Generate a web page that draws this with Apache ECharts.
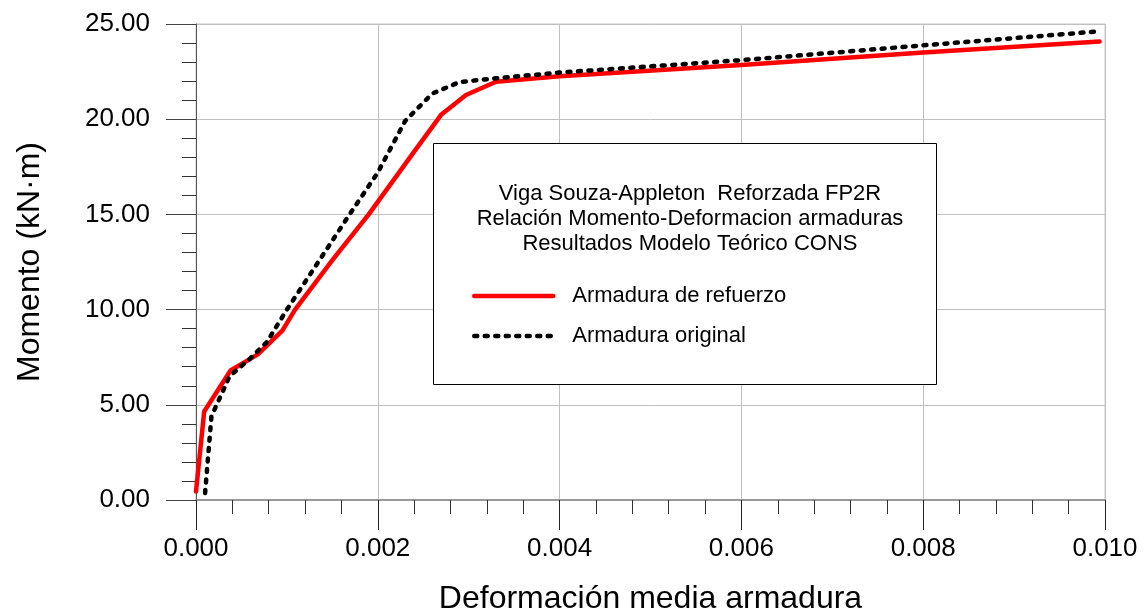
<!DOCTYPE html>
<html>
<head>
<meta charset="utf-8">
<script src="https://cdn.jsdelivr.net/npm/echarts@6/dist/echarts.min.js"></script>
<style>html,body{margin:0;padding:0;background:#fff}#c{width:1147px;height:614px}</style>
</head>
<body>
<div id="c"></div>
<script>
// Data
const seriesNames = ['Armadura de refuerzo', 'Armadura original'];
const refuerzoStrain = [0, 0.00009, 0.00038, 0.00068, 0.00095, 0.00109, 0.0015, 0.0019, 0.0024, 0.0027, 0.00297, 0.0033, 0.004, 0.006, 0.008, 0.00994];
const refuerzoMoment = [0.45, 4.65, 6.8, 7.65, 8.9, 10.0, 12.6, 15.0, 18.3, 20.25, 21.27, 21.97, 22.25, 22.85, 23.5, 24.08];
const originalStrain = [0.0001, 0.00017, 0.00037, 0.0006, 0.00078, 0.001, 0.00169, 0.002, 0.0023, 0.0026, 0.0029, 0.0033, 0.004, 0.006, 0.008, 0.0099];
const originalMoment = [0.37, 4.4, 6.5, 7.45, 8.3, 10.0, 15.0, 17.2, 19.9, 21.35, 21.95, 22.15, 22.45, 23.1, 23.88, 24.6];
const titleLines = ['Viga Souza-Appleton  Reforzada FP2R', 'Relación Momento-Deformacion armaduras', 'Resultados Modelo Teórico CONS'];
const xTitle = 'Deformación media armadura';
const yTitle = 'Momento (kN·m)';

const zip = (a, b) => a.map((v, i) => [v, b[i]]);
const FONT = 'Liberation Sans, Arial, sans-serif';

const chart = echarts.init(document.getElementById('c'));
chart.setOption({
  backgroundColor: '#fff',
  animation: false,
  grid: {
    left: 196, right: 42, top: 24, bottom: 114, show: true,
    outerBoundsMode: 'none', containLabel: false,
    borderColor: '#c8c8c8', borderWidth: 1, backgroundColor: 'transparent'
  },
  title: {
    text: titleLines.join('\n'),
    left: 685, top: 176, textAlign: 'center', z: 30,
    textStyle: { fontFamily: FONT, fontSize: 22, fontWeight: 'normal', color: '#000', lineHeight: 25 }
  },
  legend: {
    orient: 'vertical', left: 467, top: 280, z: 30,
    itemWidth: 79, itemHeight: 20, itemGap: 18,
    data: seriesNames,
    itemStyle: { opacity: 0 },
    lineStyle: { width: 4.5, cap: 'round' },
    textStyle: { fontFamily: FONT, fontSize: 22, color: '#000', padding: [0, 0, 0, 14] }
  },
  graphic: [{
    type: 'rect', z: 20,
    shape: { x: 433.5, y: 143.5, width: 503, height: 241 },
    style: { fill: '#fff', stroke: '#000', lineWidth: 1 }
  }],
  xAxis: {
    type: 'value', min: 0, max: 0.010, interval: 0.002,
    name: xTitle, nameLocation: 'middle', nameGap: 83,
    nameTextStyle: { fontFamily: FONT, fontSize: 32, color: '#000' },
    axisLine: { show: true, lineStyle: { color: '#999', width: 2 } },
    axisTick: { show: true, inside: false, length: 30, lineStyle: { color: '#222', width: 1 } },
    minorTick: { show: true, splitNumber: 5, length: 14, lineStyle: { color: '#333', width: 1 } },
    splitLine: { show: true, lineStyle: { color: '#c0c0c0', width: 1 } },
    axisLabel: { margin: 36, fontFamily: FONT, fontSize: 26, color: '#000', formatter: v => v.toFixed(3) }
  },
  yAxis: {
    type: 'value', min: 0, max: 25, interval: 5,
    name: yTitle, nameLocation: 'middle', nameGap: 150, nameRotate: 90,
    nameTextStyle: { fontFamily: FONT, fontSize: 32, color: '#000' },
    axisLine: { show: true, lineStyle: { color: '#555', width: 1 } },
    axisTick: { show: true, inside: false, length: 30, lineStyle: { color: '#444', width: 1 } },
    minorTick: { show: true, splitNumber: 5, length: 14, lineStyle: { color: '#333', width: 1 } },
    splitLine: { show: true, lineStyle: { color: '#c0c0c0', width: 1 } },
    axisLabel: { margin: 46, fontFamily: FONT, fontSize: 26, color: '#000', formatter: v => v.toFixed(2) }
  },
  series: [
    {
      name: seriesNames[0], type: 'line', data: zip(refuerzoStrain, refuerzoMoment),
      symbol: 'none', z: 3,
      lineStyle: { color: '#ff0000', width: 4.5, cap: 'round', join: 'round' },
      itemStyle: { color: '#ff0000' }
    },
    {
      name: seriesNames[1], type: 'line', data: zip(originalStrain, originalMoment),
      symbol: 'none', z: 4,
      lineStyle: { color: '#000', width: 4.5, type: [3, 7.5], cap: 'round', join: 'round' },
      itemStyle: { color: '#000' }
    }
  ]
});
</script>
</body>
</html>
